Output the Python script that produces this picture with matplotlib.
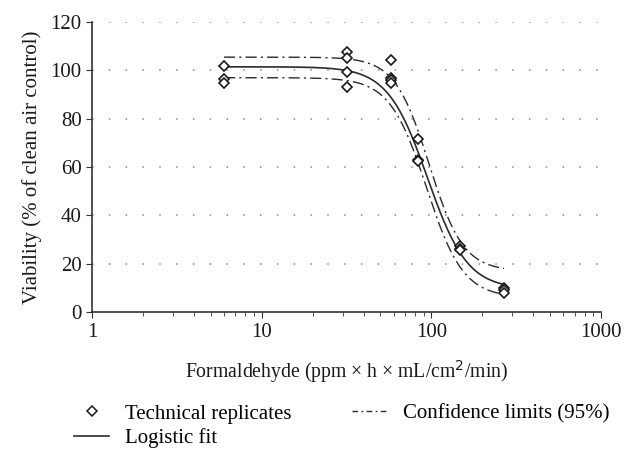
import numpy as np
import matplotlib
matplotlib.use('Agg')
import matplotlib.pyplot as plt
from matplotlib.lines import Line2D

plt.rcParams['font.family'] = ['Liberation Serif', 'DejaVu Serif']

# technical replicates (dose, viability %)
rep_dose = [6, 6, 6,
            32, 32, 32, 32,
            58, 58, 58, 58,
            83, 83, 83,
            148, 148, 148,
            268, 268, 268]
rep_viability = [102, 96.5, 95,
                 107.5, 105, 99.5, 93,
                 104.5, 97, 96, 95,
                 71.5, 63, 62.5,
                 27.5, 26, 25.5,
                 10, 9, 8]

# logistic fit parameters: top, bottom, EC50, hill slope
fit_params = [101.5, 9.5, 95, 3.7]
upper_params = [105.5, 17, 97, 4.3]
lower_params = [97, 6, 93.7, 4.0]
dose_range = [6, 268]

def logistic(x, top, bottom, ec50, hill):
    return bottom + (top - bottom) / (1 + (x / ec50) ** hill)

xs = np.logspace(np.log10(dose_range[0]), np.log10(dose_range[1]), 300)

fig = plt.figure(figsize=(6.26, 4.51), dpi=100)
ax = fig.add_axes([0.147, 0.308, 0.813, 0.643])

fs = 15
line_col = '#2b2b2b'
ax.plot(xs, logistic(xs, *fit_params), color=line_col, lw=1.2, zorder=2)
dashdot = (0, (8, 3, 1.5, 3))
ax.plot(xs, logistic(xs, *upper_params), color=line_col, lw=1.0, ls=dashdot, zorder=2)
ax.plot(xs, logistic(xs, *lower_params), color=line_col, lw=1.0, ls=dashdot, zorder=2)
ax.plot(rep_dose, rep_viability, ls='none', marker='D', ms=5.5, mfc='white',
        mec='#1a1a1a', mew=1.2, zorder=3)

ax.set_xscale('log')
ax.set_xlim(1, 1000)
ax.set_ylim(0, 120)
ax.set_yticks(range(0, 121, 20))
ax.set_xticks([1, 10, 100, 1000])
ax.set_xticklabels(['1', '10', '100', '1000'])

for y in range(20, 121, 20):
    ax.axhline(y, color='#8a8a8a', lw=1.1, ls=(0, (1, 10)), zorder=1)

for s in ['top', 'right']:
    ax.spines[s].set_visible(False)
for s in ['left', 'bottom']:
    ax.spines[s].set_color('#333333')
    ax.spines[s].set_linewidth(1.2)

ax.tick_params(axis='both', which='major', labelsize=fs, colors='#333333',
               labelcolor='#1a1a1a', length=4, direction='out')
ax.tick_params(axis='x', which='minor', length=3, color='#333333')

ax.set_xlabel('Formaldehyde (ppm × h × mL/cm$^2$/min)', fontsize=14.2, labelpad=12,
              color='#1a1a1a')
ax.set_ylabel('Viability (% of clean air control)', fontsize=fs, color='#1a1a1a',
              labelpad=6)

handles = [
    Line2D([], [], ls='none', marker='D', ms=5, mfc='white', mec='#1a1a1a', mew=1.1),
    Line2D([], [], color=line_col, lw=1.2),
    Line2D([], [], color=line_col, lw=1.0, ls=(0, (4, 2.5, 1.2, 2.5))),
]
labels = ['Technical replicates', 'Logistic fit', 'Confidence limits (95%)']
fig.legend(handles, labels, ncol=2, frameon=False, fontsize=fs,
           loc='upper left', bbox_to_anchor=(0.118, 0.104), columnspacing=2.9,
           handlelength=1.7, handletextpad=0.75, labelspacing=0.22,
           borderaxespad=0, borderpad=0)

fig.savefig('out.png', dpi=100)
